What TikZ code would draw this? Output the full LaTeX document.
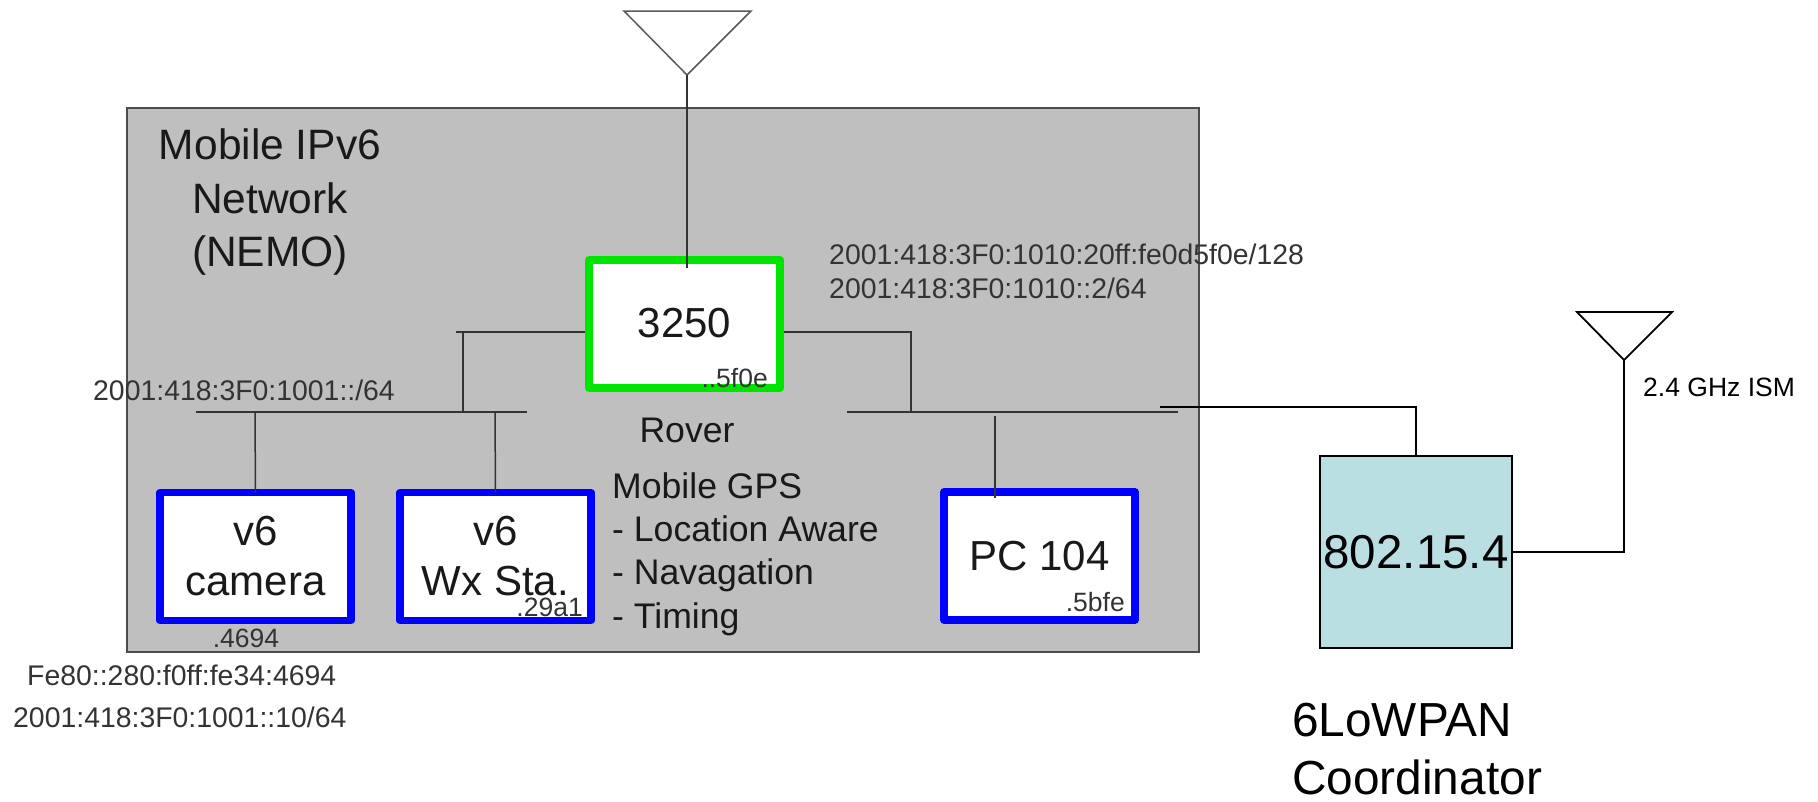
\documentclass[tikz,border=0pt]{standalone}
\usepackage{fontspec}
\usepackage{xcolor}
\setmainfont{Liberation Sans}
\definecolor{netgray}{HTML}{BFBFBF}
\definecolor{radiofill}{HTML}{B9DFE2}
\definecolor{textgray}{HTML}{333333}
\tikzset{
unit/.style={draw,fill=white,line width=7.5pt,line join=round,minimum width=191pt,minimum height=128pt,inner sep=0pt,align=center,font=\fontsize{42}{50}\selectfont,text=black!90},
link/.style={line width=1.5pt,black!80},
blink/.style={line width=1.8pt,black},
addr/.style={inner sep=0pt,text=textgray,font=\fontsize{28.4}{34}\selectfont},
tag/.style={inner sep=0pt,text=textgray,font=\fontsize{26.5}{32}\selectfont},
note/.style={inner sep=0pt,text=black!90,align=left,font=\fontsize{35.6}{43.3}\selectfont}
}
\begin{document}
\begin{tikzpicture}[x=1pt,y=-1pt]
\useasboundingbox (0,0) rectangle (1818,801);
\node[draw=black!70,line width=1.5pt,fill=netgray,minimum width=1072pt,minimum height=544pt,inner sep=0pt] (network) at (663,380) {};
\node[note,align=center,font=\fontsize{42.5}{53.5}\selectfont] (nemo) at (270,202) {Mobile IPv6\\Network\\(NEMO)};
% boxes
\node[unit,draw=green!90!black] (rover) at (684.5,324) {\raisebox{2pt}{3250}};
\node[unit,draw=blue] (camera) at (255.5,556.5) {v6\\camera};
\node[unit,draw=blue] (wxsta) at (495.5,556.5) {v6\\Wx Sta.};
\node[unit,draw=blue] (pcboard) at (1039.5,556) {PC 104};
\node[draw=black,line width=1.3pt,fill=radiofill,minimum width=192pt,minimum height=192pt,inner sep=0pt,font=\fontsize{47.5}{56}\selectfont] (radio) at (1416,552) {802.15.4};
% antennas
\coordinate (mastA) at (687,75);
\coordinate (mastB) at (1624,360);
\draw[link,line join=miter,black!65] (624,11) -- (751,11) -- (mastA) -- cycle;
\draw[blink,line join=miter] (1577,312) -- (1672,312) -- (mastB) -- cycle;
% buses
\coordinate (lbusw) at (196,412);
\coordinate (lbuse) at (527,412);
\coordinate (rbusw) at (847,412);
\coordinate (rbuse) at (1178,412);
\draw[link,line width=2pt] (lbusw) -- (lbuse);
\draw[link,line width=2pt] (rbusw) -- (rbuse);
% connectors
\coordinate (mastAend) at (687,268);
\draw[link] (mastA) -- (mastAend);
\coordinate (lstub) at (456,332);
\coordinate (ltee) at (463,332);
\coordinate (lteeb) at (463,412);
\coordinate (rtee) at (911,332);
\coordinate (rteeb) at (911,412);
\draw[link,line width=2pt] ([yshift=-8pt]rover.west) -- (lstub);
\draw[link] (ltee) -- (lteeb);
\draw[link,line width=2pt] ([yshift=-8pt]rover.east) -- (rtee) -- (rteeb);
\foreach \n/\x in {camera/255,wxsta/495}{
\coordinate (\n top) at (\x,412);
\draw[link] (\n top) -- ([yshift=-4pt]\n.north);
}
\coordinate (pctop) at (995,416);
\coordinate (pcend) at (995,498);
\draw[link] (pctop) -- (pcend);
\coordinate (uplink) at (1160,407);
\coordinate (uplinkb) at (1416,407);
\draw[blink] (uplink) -- (uplinkb) -- (radio.north);
\coordinate (mastBb) at (1624,552);
\draw[blink] (mastB) -- (mastBb) -- (radio.east |- mastBb);
% labels
\node[tag,anchor=east] (tagrover) at (768,378) {..5f0e};
\node[tag,anchor=east] (tagwx) at (583,607) {.29a1};
\node[tag,anchor=east] (tagpc) at (1125,602) {.5bfe};
\node[tag] (tagcam) at (246,638) {.4694};
\node[addr,anchor=west] (addrl) at (93,390) {2001:418:3F0:1001::/64};
\node[addr,anchor=west] (addrra) at (829,254) {2001:418:3F0:1010:20ff:fe0d5f0e/128};
\node[addr,anchor=west] (addrrb) at (829,288) {2001:418:3F0:1010::2/64};
\node[addr,anchor=west] (addrcb) at (27,675) {Fe80::280:f0ff:fe34:4694};
\node[addr,anchor=west] (addrcc) at (13,717) {2001:418:3F0:1001::10/64};
\node[note] (rovername) at (687,430) {Rover};
\node[note,anchor=west] (gps) at (612,554) {Mobile GPS\\- Location Aware\\- Navagation\\- Timing};
\node[tag,anchor=west,text=black] (ism) at (1643,387) {2.4 GHz ISM};
\node[note,anchor=west,text=black,font=\fontsize{47.8}{58}\selectfont] (coord) at (1292,749) {6LoWPAN\\Coordinator};
\end{tikzpicture}
\end{document}
